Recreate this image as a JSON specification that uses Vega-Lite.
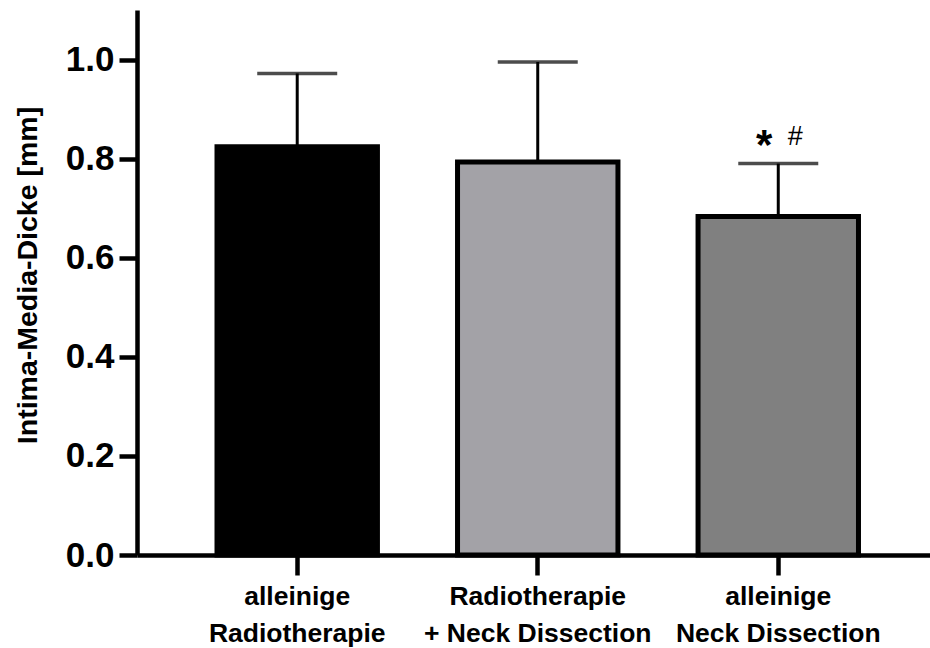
{
  "$schema": "https://vega.github.io/schema/vega-lite/v6.json",
  "width": 793,
  "height": 545,
  "autosize": {"type": "none"},
  "padding": {"left": 137, "top": 10, "right": 0, "bottom": 93},
  "background": "white",
  "config": {
    "view": {"stroke": null},
    "font": "Liberation Sans",
    "axis": {"grid": false, "domainColor": "black", "tickColor": "black", "labelColor": "black", "titleColor": "black", "labelFontWeight": "bold", "titleFontWeight": "bold", "labelFont": "Liberation Sans", "titleFont": "Liberation Sans", "labelLimit": 0}
  },
  "data": {
    "values": [
      {"group": "alleinige\nRadiotherapie", "mean": 0.824, "upper": 0.972},
      {"group": "Radiotherapie\n+ Neck Dissection", "mean": 0.793, "upper": 0.995},
      {"group": "alleinige\nNeck Dissection", "mean": 0.683, "upper": 0.790}
    ]
  },
  "encoding": {
    "x": {
      "field": "group",
      "type": "nominal",
      "sort": null,
      "scale": {"paddingInner": 0.333, "paddingOuter": 0.315, "align": 0.528},
      "axis": {
        "title": null,
        "labelAngle": 0,
        "labelExpr": "split(datum.label, '\\n')",
        "labelFontSize": 26.5,
        "labelLineHeight": 37,
        "labelPadding": 8,
        "labelBaseline": "top",
        "domainWidth": 4.5,
        "tickWidth": 4.5,
        "tickSize": 20
      }
    }
  },
  "layer": [
    {
      "mark": {"type": "bar", "stroke": "black", "strokeWidth": 5},
      "encoding": {
        "y": {
          "field": "mean",
          "type": "quantitative",
          "scale": {"domain": [0, 1.1], "nice": false},
          "axis": {
            "title": "Intima-Media-Dicke [mm]",
            "titleFontSize": 28.5,
            "titleX": -110,
            "titleY": 265,
            "titleAngle": -90,
            "titleAlign": "center",
            "titleBaseline": "middle",
            "values": [0, 0.2, 0.4, 0.6, 0.8, 1.0],
            "format": ".1f",
            "labelFontSize": 35,
            "labelPadding": 5,
            "domainWidth": 4.5,
            "tickWidth": 4.5,
            "tickSize": 18
          }
        },
        "color": {
          "field": "group",
          "type": "nominal",
          "scale": {
            "domain": ["alleinige\nRadiotherapie", "Radiotherapie\n+ Neck Dissection", "alleinige\nNeck Dissection"],
            "range": ["#000000", "#a3a2a7", "#808080"]
          },
          "legend": null
        }
      }
    },
    {
      "mark": {"type": "rule", "color": "black", "strokeWidth": 3},
      "encoding": {
        "y": {"field": "mean", "type": "quantitative"},
        "y2": {"field": "upper"}
      }
    },
    {
      "mark": {"type": "tick", "color": "black", "thickness": 3.5, "size": 80},
      "encoding": {
        "y": {"field": "upper", "type": "quantitative"}
      }
    },
    {
      "data": {"values": [{"group": "alleinige\nNeck Dissection", "pos": 0.846, "sym1": "*", "sym2": "#"}]},
      "layer": [
        {
          "mark": {"type": "text", "fontSize": 42, "fontWeight": "bold", "dx": -14, "dy": 10, "baseline": "middle", "color": "black"},
          "encoding": {"y": {"field": "pos", "type": "quantitative"}, "text": {"field": "sym1"}}
        },
        {
          "mark": {"type": "text", "fontSize": 27, "dx": 17, "dy": 1, "baseline": "middle", "color": "black"},
          "encoding": {"y": {"field": "pos", "type": "quantitative"}, "text": {"field": "sym2"}}
        }
      ]
    }
  ]
}
